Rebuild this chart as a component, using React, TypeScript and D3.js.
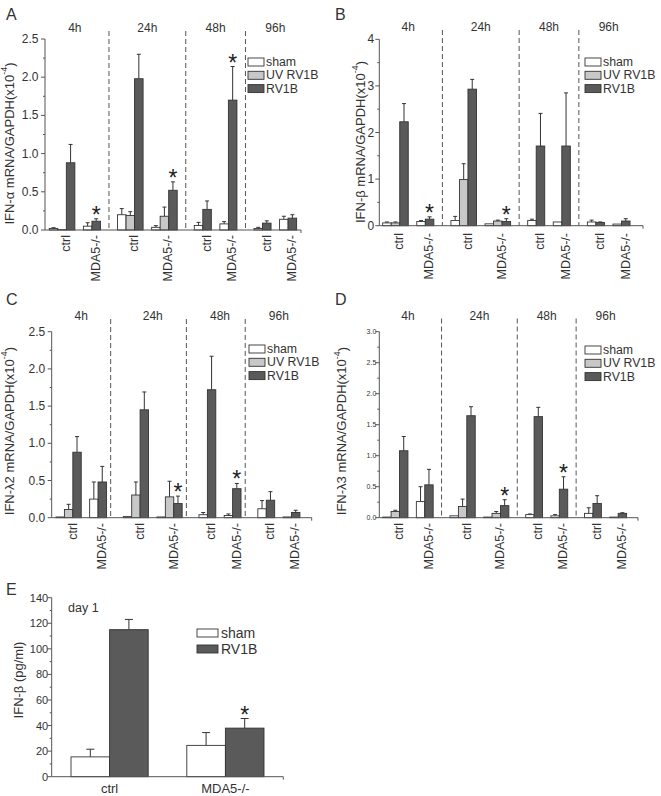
import React from "react";
import * as d3 from "d3";

// ---------------- DATA ----------------
const timeLabels = ["4h", "24h", "48h", "96h"];
const genotypes = ["ctrl", "MDA5-/-"];
const seriesNames = ["sham", "UV RV1B", "RV1B"];
// group order: 4h ctrl, 4h MDA5-/-, 24h ctrl, 24h MDA5-/-, 48h ctrl, 48h MDA5-/-, 96h ctrl, 96h MDA5-/-
// each group: [sham, UV RV1B, RV1B]; null = not shown
const alphaMean = [
  [0.02, 0.005, 0.88], [0.05, null, 0.115], [0.2, 0.19, 1.98], [0.035, 0.18, 0.52],
  [0.06, null, 0.27], [0.08, null, 1.7], [0.02, null, 0.09], [0.14, null, 0.155],
];
const alphaSd = [
  [0.01, 0, 0.24], [0.045, null, 0.032], [0.08, 0.05, 0.32], [0.022, 0.12, 0.11],
  [0.04, null, 0.11], [0.03, null, 0.44], [0.015, null, 0.03], [0.04, null, 0.045],
];
const alphaStars = [1, 3, 5];

const betaMean = [
  [0.06, 0.06, 2.23], [0.09, null, 0.14], [0.11, 0.99, 2.93], [0.04, 0.1, 0.09],
  [0.11, null, 1.71], [0.08, null, 1.71], [0.08, null, 0.07], [0.035, null, 0.1],
];
const betaSd = [
  [0.02, 0.02, 0.39], [0.02, null, 0.05], [0.09, 0.34, 0.21], [0, 0.02, 0.06],
  [0.03, null, 0.7], [0, null, 1.14], [0.04, null, 0.01], [0, null, 0.05],
];
const betaStars = [1, 3];

const lambda2Mean = [
  [0.01, 0.11, 0.88], [0.25, null, 0.48], [0.015, 0.305, 1.45], [0.01, 0.28, 0.19],
  [0.04, null, 1.72], [0.03, null, 0.39], [0.12, null, 0.235], [0.01, null, 0.07],
];
const lambda2Sd = [
  [0, 0.07, 0.21], [0.23, null, 0.21], [0, 0.175, 0.24], [0, 0.21, 0.1],
  [0.03, null, 0.45], [0.02, null, 0.07], [0.11, null, 0.115], [0, null, 0.03],
];
const lambda2Stars = [3, 5];

const lambda3Mean = [
  [0.01, 0.1, 1.08], [0.26, null, 0.53], [0.03, 0.18, 1.645], [0.01, 0.07, 0.195],
  [0.05, null, 1.63], [0.03, null, 0.46], [0.07, null, 0.23], [0.01, null, 0.07],
];
const lambda3Sd = [
  [0, 0.02, 0.23], [0.24, null, 0.25], [0, 0.12, 0.145], [0, 0.03, 0.095],
  [0.01, null, 0.15], [0.02, null, 0.2], [0.09, null, 0.125], [0, null, 0.01],
];
const lambda3Stars = [3, 5];

const eGroups = ["ctrl", "MDA5-/-"];
const eSeries = ["sham", "RV1B"];
const eMean = [[15.5, 115], [24.5, 38]];
const eSd = [[6, 8], [10, 7.5]];
const eStars = [[1, 1]];

// ---------------- STYLE ----------------
const FONT = "'Liberation Sans', Arial, Helvetica, sans-serif";
const TXT = "#333";
const AX = "#555";
const fills = ["#ffffff", "#c8c8c8", "#5a5a5a"];
const eFills = ["#ffffff", "#5a5a5a"];
const LEG_STEP = 13.3;

type Cfg = {
  letter: string; lx: number; ly: number;
  x0: number; u: number; axisX: number; axisEnd: number;
  y0: number; y1: number; yMax: number; major: number; minor: number;
  tickFont: number; tickGap: number; fmt: string;
  yl: string; ylx: number; yly: number;
  timeY: number; dashShift: number;
  legX: number; legY: number; catY: number;
};

function layout(mean: (number | null)[][]) {
  let s = 0.5;
  const groups: { bars: { k: number; slot: number }[]; start: number; end: number }[] = [];
  const dashes: number[] = [];
  const spans: [number, number][] = [];
  for (let t = 0; t < timeLabels.length; t++) {
    const tStart = s;
    for (let g = 0; g < genotypes.length; g++) {
      const gi = t * genotypes.length + g;
      const bars: { k: number; slot: number }[] = [];
      const st = s;
      mean[gi].forEach((v, k) => {
        if (v !== null) { bars.push({ k, slot: s }); s += 1; }
      });
      groups.push({ bars, start: st, end: s });
      if (g < genotypes.length - 1) s += 1;
    }
    spans.push([tStart, s]);
    if (t < timeLabels.length - 1) { s += 1; dashes.push(s); s += 1; }
  }
  return { groups, dashes, spans };
}

function YLabel({ x, y, text }: { x: number; y: number; text: string }) {
  return (
    <text transform={`translate(${x},${y}) rotate(-90)`} textAnchor="middle" dominantBaseline="central"
      fontSize={13} fill={TXT} fontFamily={FONT}>
      {text}(x10<tspan fontSize={9} dy={-5}>-4</tspan><tspan dy={5}>)</tspan>
    </text>
  );
}

function Panel({ cfg, mean, sd, stars }: { cfg: Cfg; mean: (number | null)[][]; sd: (number | null)[][]; stars: number[] }) {
  const { groups, dashes, spans } = layout(mean);
  const xs = d3.scaleLinear().domain([0, 1]).range([cfg.x0, cfg.x0 + cfg.u]);
  const y = d3.scaleLinear().domain([0, cfg.yMax]).range([cfg.y0, cfg.y1]);
  const majors = d3.range(0, cfg.yMax + 1e-9, cfg.major);
  const minors = d3.range(0, cfg.yMax + 1e-9, cfg.minor).filter(v => Math.abs(v / cfg.major - Math.round(v / cfg.major)) > 1e-6);
  const fmt = d3.format(cfg.fmt);
  const w = xs(1) - xs(0);
  return (
    <g>
      <text x={cfg.lx} y={cfg.ly} fontSize={16} fill={TXT} fontFamily={FONT}>{cfg.letter}</text>
      {dashes.map((d, i) => (
        <line key={i} x1={xs(d + cfg.dashShift)} x2={xs(d + cfg.dashShift)} y1={cfg.timeY - 1} y2={cfg.y0}
          stroke={AX} strokeWidth={1} strokeDasharray="5,3" />
      ))}
      {spans.map((sp, i) => (
        <text key={i} x={(xs(sp[0]) + xs(sp[1])) / 2} y={cfg.timeY} textAnchor="middle" fontSize={12}
          fill={TXT} fontFamily={FONT}>{timeLabels[i]}</text>
      ))}
      {groups.map((g, gi) => g.bars.map(b => {
        const v = mean[gi][b.k] as number;
        const e = (sd[gi][b.k] as number) || 0;
        const cx = xs(b.slot) + w / 2;
        return (
          <g key={`${gi}-${b.k}`}>
            {e > 0 && <line x1={cx} x2={cx} y1={y(v)} y2={y(v + e)} stroke="#333" strokeWidth={1} />}
            {e > 0 && <line x1={cx - 2} x2={cx + 2} y1={y(v + e)} y2={y(v + e)} stroke="#333" strokeWidth={1} />}
            <rect x={xs(b.slot)} y={y(v)} width={w} height={cfg.y0 - y(v)} fill={fills[b.k]} stroke="#333" strokeWidth={0.9} />
          </g>
        );
      }))}
      {stars.map(gi => {
        const g = groups[gi];
        const b = g.bars.find(bb => bb.k === 2)!;
        const v = (mean[gi][2] as number) + ((sd[gi][2] as number) || 0);
        return (
          <text key={gi} x={xs(b.slot) + w / 2} y={y(v) + 4} textAnchor="middle" fontSize={23} fill="#222"
            fontFamily={FONT}>*</text>
        );
      })}
      <line x1={cfg.axisX} x2={cfg.axisX} y1={cfg.y0} y2={cfg.y1} stroke={AX} strokeWidth={1} />
      <line x1={cfg.axisX} x2={cfg.axisEnd} y1={cfg.y0} y2={cfg.y0} stroke={AX} strokeWidth={1} />
      <line x1={cfg.axisEnd} x2={cfg.axisEnd} y1={cfg.y0} y2={cfg.y0 + 3} stroke={AX} strokeWidth={1} />
      {majors.map(v => (
        <g key={`M${v}`}>
          <line x1={cfg.axisX - 4} x2={cfg.axisX} y1={y(v)} y2={y(v)} stroke={AX} strokeWidth={1} />
          <text x={cfg.axisX - cfg.tickGap} y={y(v)} textAnchor="end" dominantBaseline="central"
            fontSize={cfg.tickFont} fill={TXT} fontFamily={FONT}>{fmt(v)}</text>
        </g>
      ))}
      {minors.map(v => (
        <line key={`m${v}`} x1={cfg.axisX - 2} x2={cfg.axisX} y1={y(v)} y2={y(v)} stroke={AX} strokeWidth={1} />
      ))}
      {groups.map((g, gi) => {
        const cx = (xs(g.start) + xs(g.end)) / 2 + 4;
        return (
          <text key={gi} transform={`translate(${cx},${cfg.catY}) rotate(-90)`} textAnchor="end"
            dominantBaseline="central" fontSize={12.5} fill={TXT} fontFamily={FONT}>
            {genotypes[gi % genotypes.length]}
          </text>
        );
      })}
      <YLabel x={cfg.ylx} y={cfg.yly} text={cfg.yl} />
      {seriesNames.map((n, i) => (
        <g key={n}>
          <rect x={cfg.legX} y={cfg.legY + i * LEG_STEP} width={16} height={8} fill={fills[i]} stroke="#333" strokeWidth={0.9} />
          <text x={cfg.legX + 18} y={cfg.legY + i * LEG_STEP + 4} dominantBaseline="central" fontSize={12.3}
            fill={TXT} fontFamily={FONT}>{n}</text>
        </g>
      ))}
    </g>
  );
}

const cfgA: Cfg = {
  letter: "A", lx: 6, ly: 20, x0: 45, u: 8.53, axisX: 45, axisEnd: 301,
  y0: 230, y1: 39, yMax: 2.5, major: 0.5, minor: 0.25, tickFont: 12, tickGap: 6.5, fmt: ".1f",
  yl: "IFN-α mRNA/GAPDH", ylx: 9, yly: 143.5, timeY: 32, dashShift: 0, legX: 248, legY: 58, catY: 235,
};
const cfgB: Cfg = {
  letter: "B", lx: 335, ly: 20, x0: 378.4, u: 8.53, axisX: 379.3, axisEnd: 643,
  y0: 225.7, y1: 39.3, yMax: 4, major: 1, minor: 0.5, tickFont: 12, tickGap: 5, fmt: "d",
  yl: "IFN-β mRNA/GAPDH", ylx: 360, yly: 142, timeY: 31, dashShift: 0, legX: 585, legY: 58, catY: 233,
};
const cfgC: Cfg = {
  letter: "C", lx: 6, ly: 305, x0: 51.8, u: 8.41, axisX: 51.7, axisEnd: 311.7,
  y0: 517.7, y1: 331.7, yMax: 2.5, major: 0.5, minor: 0.25, tickFont: 12, tickGap: 6.5, fmt: ".1f",
  yl: "IFN-λ2 mRNA/GAPDH", ylx: 9, yly: 431, timeY: 320, dashShift: -0.5, legX: 249, legY: 345, catY: 523,
};
const cfgD: Cfg = {
  letter: "D", lx: 335, ly: 305, x0: 378.5, u: 8.41, axisX: 379.3, axisEnd: 638,
  y0: 517.7, y1: 331.7, yMax: 3, major: 0.5, minor: 0.25, tickFont: 7, tickGap: 3, fmt: ".1f",
  yl: "IFN-λ3 mRNA/GAPDH", ylx: 341.5, yly: 431, timeY: 319.5, dashShift: 0, legX: 585, legY: 346, catY: 523,
};

function PanelE() {
  const axisX = 51.7, axisEnd = 283.3, y0 = 776.7, y1 = 597.7;
  const xb = d3.scaleBand<string>().domain(eGroups).range([axisX, axisEnd]).paddingInner(1 / 3).paddingOuter(1 / 6);
  const xi = d3.scaleBand<string>().domain(eSeries).range([0, xb.bandwidth()]);
  const y = d3.scaleLinear().domain([0, 140]).range([y0, y1]);
  const majors = d3.range(0, 141, 20);
  const minors = d3.range(10, 140, 20);
  return (
    <g>
      <text x={6} y={595} fontSize={16} fill={TXT} fontFamily={FONT}>E</text>
      {eGroups.map((g, gi) => eSeries.map((s, si) => {
        const v = eMean[gi][si], e = eSd[gi][si];
        const x = (xb(g) as number) + (xi(s) as number);
        const cx = x + xi.bandwidth() / 2;
        return (
          <g key={g + s}>
            <line x1={cx} x2={cx} y1={y(v)} y2={y(v + e)} stroke="#333" strokeWidth={1} />
            <line x1={cx - 4} x2={cx + 4} y1={y(v + e)} y2={y(v + e)} stroke="#333" strokeWidth={1} />
            <rect x={x} y={y(v)} width={xi.bandwidth()} height={y0 - y(v)} fill={eFills[si]} stroke="#333" strokeWidth={0.9} />
          </g>
        );
      }))}
      {eStars.map(([gi, si]) => {
        const x = (xb(eGroups[gi]) as number) + (xi(eSeries[si]) as number) + xi.bandwidth() / 2;
        return <text key={`${gi}${si}`} x={x} y={y(eMean[gi][si] + eSd[gi][si]) + 4} textAnchor="middle"
          fontSize={23} fill="#222" fontFamily={FONT}>*</text>;
      })}
      <line x1={axisX} x2={axisX} y1={y0} y2={y1} stroke={AX} strokeWidth={1} />
      <line x1={axisX} x2={axisEnd} y1={y0} y2={y0} stroke={AX} strokeWidth={1} />
      <line x1={axisEnd} x2={axisEnd} y1={y0} y2={y0 + 3} stroke={AX} strokeWidth={1} />
      {majors.map(v => (
        <g key={v}>
          <line x1={axisX - 4} x2={axisX} y1={y(v)} y2={y(v)} stroke={AX} strokeWidth={1} />
          <text x={axisX - 3.5} y={y(v)} textAnchor="end" dominantBaseline="central" fontSize={11}
            fill={TXT} fontFamily={FONT}>{v}</text>
        </g>
      ))}
      {minors.map(v => (
        <line key={v} x1={axisX - 2} x2={axisX} y1={y(v)} y2={y(v)} stroke={AX} strokeWidth={1} />
      ))}
      {eGroups.map(g => (
        <text key={g} x={(xb(g) as number) + xb.bandwidth() / 2} y={793} textAnchor="middle" fontSize={13}
          fill={TXT} fontFamily={FONT}>{g}</text>
      ))}
      <text transform={`translate(18,680) rotate(-90)`} textAnchor="middle" dominantBaseline="central"
        fontSize={13} fill={TXT} fontFamily={FONT}>IFN-β  (pg/ml)</text>
      <text x={68} y={612} fontSize={12.5} fill={TXT} fontFamily={FONT}>day 1</text>
      {eSeries.map((s, i) => (
        <g key={s}>
          <rect x={197} y={629 + i * 16} width={21} height={8} fill={eFills[i]} stroke="#333" strokeWidth={0.9} />
          <text x={221} y={633 + i * 16} dominantBaseline="central" fontSize={14} fill={TXT} fontFamily={FONT}>{s}</text>
        </g>
      ))}
    </g>
  );
}

export default function App() {
  return (
    <svg width={661} height={796} style={{ position: "absolute", left: 0, top: 0, background: "#fff" }}>
      <rect x={0} y={0} width={661} height={796} fill="#fff" />
      <Panel cfg={cfgA} mean={alphaMean} sd={alphaSd} stars={alphaStars} />
      <Panel cfg={cfgB} mean={betaMean} sd={betaSd} stars={betaStars} />
      <Panel cfg={cfgC} mean={lambda2Mean} sd={lambda2Sd} stars={lambda2Stars} />
      <Panel cfg={cfgD} mean={lambda3Mean} sd={lambda3Sd} stars={lambda3Stars} />
      <PanelE />
    </svg>
  );
}
